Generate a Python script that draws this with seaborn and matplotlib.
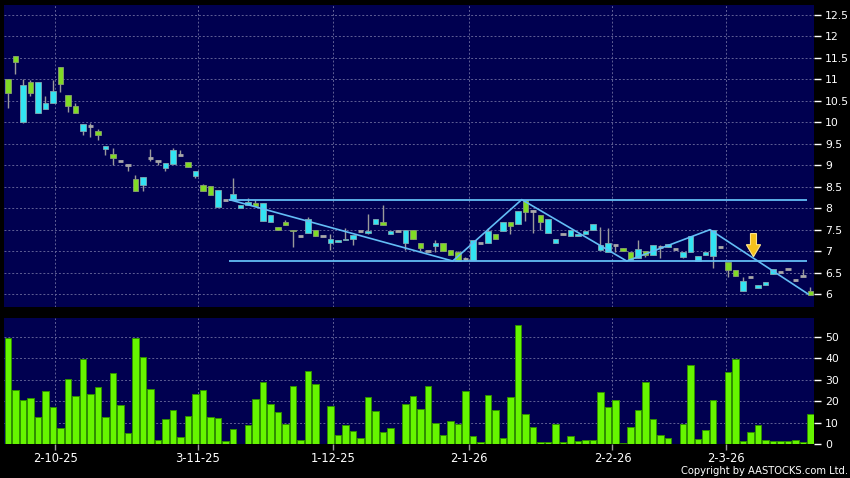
import numpy as np
import matplotlib
matplotlib.use("Agg")
import matplotlib.pyplot as plt
import seaborn as sns
from matplotlib.patches import FancyArrow

# ---------------- data ----------------
opens = [11.00, 11.54, 10.01, 10.93, 10.22, 10.32, 10.46, 11.28, 10.63, 10.39,
         9.80, 9.91, 9.80, 9.38, 9.25, 9.10, 9.01, 8.69, 8.54, 9.17,
         9.09, 8.93, 9.02, 9.23, 9.08, 8.75, 8.55, 8.51, 8.03, 8.19,
         8.19, 8.01, 8.08, 8.11, 7.71, 7.68, 7.57, 7.67, 7.50, 7.36,
         7.43, 7.50, 7.36, 7.19, 7.21, 7.26, 7.28, 7.46, 7.42, 7.63,
         7.69, 7.40, 7.46, 7.19, 7.50, 7.20, 7.00, 7.13, 7.18, 7.02,
         6.97, 6.82, 6.80, 7.19, 7.18, 7.41, 7.46, 7.67, 7.64, 8.19,
         7.93, 7.85, 7.43, 7.19, 7.41, 7.35, 7.35, 7.40, 7.50, 7.03,
         6.98, 7.15, 7.08, 6.98, 6.84, 7.01, 6.91, 7.09, 7.09, 7.05,
         6.86, 6.98, 6.78, 6.92, 6.89, 7.10, 6.75, 6.55, 6.07, 6.40,
         6.15, 6.21, 6.46, 6.52, 6.59, 6.34, 6.42, 6.08]
highs = [11.00, 11.54, 11.01, 10.98, 10.93, 10.61, 10.98, 11.28, 10.63, 10.44,
         9.96, 9.99, 9.84, 9.44, 9.40, 9.10, 9.01, 8.77, 8.72, 9.38,
         9.09, 9.06, 9.41, 9.35, 9.08, 8.87, 8.57, 8.51, 8.42, 8.19,
         8.70, 8.07, 8.23, 8.19, 8.12, 7.83, 7.57, 7.72, 7.50, 7.36,
         7.80, 7.50, 7.36, 7.41, 7.27, 7.55, 7.37, 7.46, 7.86, 7.76,
         8.07, 7.48, 7.46, 7.50, 7.50, 7.20, 7.00, 7.26, 7.18, 7.02,
         7.01, 6.86, 7.26, 7.19, 7.55, 7.41, 7.69, 7.67, 7.93, 8.19,
         7.95, 7.85, 7.76, 7.29, 7.41, 7.50, 7.41, 7.47, 7.64, 7.57,
         7.53, 7.15, 7.08, 6.98, 7.26, 7.01, 7.15, 7.14, 7.17, 7.05,
         6.98, 7.35, 6.89, 6.97, 7.49, 7.10, 6.75, 6.55, 6.40, 6.40,
         6.21, 6.28, 6.59, 6.52, 6.59, 6.34, 6.58, 6.17]
lows = [10.34, 11.12, 9.99, 10.62, 10.22, 10.32, 10.46, 10.71, 10.25, 10.22,
        9.70, 9.66, 9.59, 9.24, 9.00, 9.10, 8.87, 8.40, 8.40, 9.10,
        9.01, 8.87, 9.02, 9.23, 8.95, 8.71, 8.41, 8.30, 8.03, 8.19,
        8.19, 8.01, 8.08, 8.05, 7.71, 7.68, 7.50, 7.61, 7.10, 7.36,
        7.43, 7.36, 7.36, 7.02, 7.21, 7.26, 7.14, 7.46, 7.40, 7.63,
        7.61, 7.40, 7.46, 7.02, 7.29, 7.00, 7.00, 6.98, 7.01, 6.92,
        6.77, 6.78, 6.80, 7.19, 7.18, 7.29, 7.46, 7.41, 7.64, 7.71,
        7.43, 7.49, 7.43, 7.19, 7.41, 7.35, 7.35, 7.40, 7.50, 7.03,
        6.98, 6.98, 7.01, 6.80, 6.84, 6.86, 6.91, 6.84, 7.09, 7.05,
        6.84, 6.98, 6.78, 6.92, 6.61, 7.10, 6.40, 6.42, 6.07, 6.40,
        6.15, 6.21, 6.46, 6.52, 6.59, 6.30, 6.42, 5.99]
closes = [10.69, 11.41, 10.87, 10.69, 10.93, 10.46, 10.73, 10.88, 10.39, 10.22,
          9.96, 9.91, 9.71, 9.44, 9.17, 9.10, 9.01, 8.40, 8.72, 9.17,
          9.09, 9.06, 9.35, 9.23, 8.96, 8.87, 8.41, 8.31, 8.42, 8.19,
          8.34, 8.07, 8.14, 8.05, 8.11, 7.83, 7.50, 7.61, 7.46, 7.36,
          7.75, 7.36, 7.36, 7.29, 7.27, 7.29, 7.37, 7.46, 7.48, 7.76,
          7.61, 7.48, 7.46, 7.50, 7.29, 7.08, 7.00, 7.19, 7.01, 6.92,
          6.77, 6.82, 7.26, 7.19, 7.47, 7.29, 7.69, 7.58, 7.93, 7.90,
          7.93, 7.67, 7.76, 7.29, 7.41, 7.50, 7.41, 7.47, 7.64, 7.15,
          7.20, 7.15, 7.01, 6.80, 7.06, 6.91, 7.15, 7.09, 7.17, 7.05,
          6.98, 7.35, 6.89, 6.97, 7.49, 7.10, 6.57, 6.42, 6.31, 6.40,
          6.21, 6.28, 6.59, 6.52, 6.59, 6.34, 6.42, 5.99]
volumes = [49.5, 25.1, 20.5, 21.3, 12.7, 24.5, 17.4, 7.6, 30.4, 22.2,
           39.6, 23.4, 26.4, 12.7, 33.2, 18.3, 5.3, 49.2, 40.5, 25.6,
           1.7, 11.8, 15.7, 3.4, 12.9, 23.3, 25.1, 12.7, 12.1, 1.4,
           6.8, 0.0, 8.7, 20.8, 28.9, 18.8, 14.9, 9.3, 27.0, 1.9,
           34.0, 28.1, 0.0, 17.9, 4.2, 9.0, 6.1, 2.6, 21.9, 15.4,
           5.7, 7.6, 0.0, 18.8, 22.4, 16.3, 26.9, 9.9, 4.2, 10.7,
           9.3, 24.8, 3.7, 0.9, 22.7, 15.8, 2.6, 22.0, 55.3, 13.8,
           8.1, 0.9, 0.9, 9.3, 0.9, 3.9, 1.4, 1.7, 1.7, 24.2,
           17.4, 20.3, 0.4, 8.1, 15.8, 28.9, 11.6, 4.3, 2.6, 0.0,
           9.3, 36.6, 2.5, 6.4, 20.5, 0.0, 33.7, 39.4, 1.3, 5.7,
           9.0, 1.9, 1.6, 1.6, 1.6, 1.7, 0.9, 13.8]

tick_positions = [6.3, 25.3, 43.4, 61.5, 80.6, 95.7]
tick_labels = ["2-10-25", "3-11-25", "1-12-25", "2-1-26", "2-2-26", "2-3-26"]
price_ticks = [6, 6.5, 7, 7.5, 8, 8.5, 9, 9.5, 10, 10.5, 11, 11.5, 12, 12.5]
volume_ticks = [0, 10, 20, 30, 40, 50]

# drawn annotations (levels, zig-zag trendline, arrow)
resistance_level = 8.20
support_level = 6.77
level_span = [29.5, 106.5]
zigzag_x = [29.5, 59.3, 68.5, 82.5, 93.6, 106.7]
zigzag_y = [8.20, 6.77, 8.20, 6.77, 7.50, 6.00]
arrow_x = 99.4
arrow_top = 7.41
arrow_tip = 6.87

# ---------------- style ----------------
BG = "#000050"
GRID = "#5f5f95"
CYAN = "#33E3F2"
GREEN = "#80DB25"
WICK = "#9a9a9a"
LINE = "#63BDF5"
VOL = "#66F500"

sns.set_style("dark")
plt.rcParams["font.family"] = ["DejaVu Sans"]

W, H = 850, 478
fig = plt.figure(figsize=(W / 100, H / 100), dpi=100, facecolor="black")
L, R = 4 / W, 814 / W
ax = fig.add_axes([L, 1 - 307 / H, R - L, (307 - 5) / H])
axv = fig.add_axes([L, 1 - 444 / H, R - L, (444 - 318) / H])

o = np.array(opens); h = np.array(highs); lo = np.array(lows); c = np.array(closes)
x = np.arange(len(o))
xlim = (-0.53, 107.47)

for a in (ax, axv):
    a.set_facecolor(BG)
    for s in a.spines.values():
        s.set_visible(False)
    a.set_xlim(*xlim)
    a.yaxis.tick_right()
    a.set_xticks(tick_positions)
    a.grid(True, axis="both", color=GRID, linestyle=(0, (2, 2)), linewidth=0.7)
    a.set_axisbelow(True)
    a.tick_params(axis="y", colors="white", labelcolor="white", length=5,
                  width=1, labelsize=7.8, pad=3, direction="out")

# ---- price panel ----
ax.set_ylim(5.70, 12.73)
ax.set_yticks(price_ticks)
ax.set_yticklabels([f"{t:g}" for t in price_ticks])
ax.tick_params(axis="x", bottom=False, labelbottom=False)

up = c > o
dn = c < o
fl = c == o
ax.vlines(x, lo, h, color=WICK, linewidth=1.0, zorder=2)
bw = 0.75
ax.bar(x[up], (c - o)[up], bottom=o[up], width=bw, color=CYAN,
       edgecolor="#7fa7b0", linewidth=0.6, zorder=3)
ax.bar(x[dn], (o - c)[dn], bottom=c[dn], width=bw, color=GREEN,
       edgecolor="#8aa070", linewidth=0.6, zorder=3)
ax.hlines(o[fl], x[fl] - bw / 2, x[fl] + bw / 2, color="#a8a8a8",
          linewidth=2.0, zorder=3)

ax.hlines([resistance_level, support_level], level_span[0], level_span[1],
          color=LINE, linewidth=1.3, zorder=4)
ax.plot(zigzag_x, zigzag_y, color=LINE, linewidth=1.2, zorder=4)

arr = FancyArrow(arrow_x, arrow_top, 0, arrow_tip - arrow_top, width=0.8,
                 head_width=1.9, head_length=0.28, length_includes_head=True,
                 facecolor="#F7C21B", edgecolor="#FFE58A", linewidth=0.8, zorder=6)
ax.add_patch(arr)

# ---- volume panel ----
sns.barplot(x=x, y=volumes, native_scale=True, color=VOL, saturation=1,
            width=0.85, edgecolor="#2f8f00", linewidth=0.7, errorbar=None, ax=axv)
axv.set_xlim(*xlim)
axv.set_ylim(0, 58.7)
axv.set_yticks(volume_ticks)
axv.set_yticklabels([str(t) for t in volume_ticks])
axv.set_xticks(tick_positions)
axv.set_xticklabels(tick_labels)
axv.set_xlabel("")
axv.set_ylabel("")
axv.tick_params(axis="x", colors="#9a9a9a", labelcolor="white", length=4,
                width=1, labelsize=8.3, pad=1.5, direction="out", bottom=True)

fig.text(848 / W, 1 - 471 / H, "Copyright by AASTOCKS.com Ltd.", color="white",
         fontsize=7.2, ha="right", va="center")

fig.savefig("out.png", dpi=100, facecolor="black")
